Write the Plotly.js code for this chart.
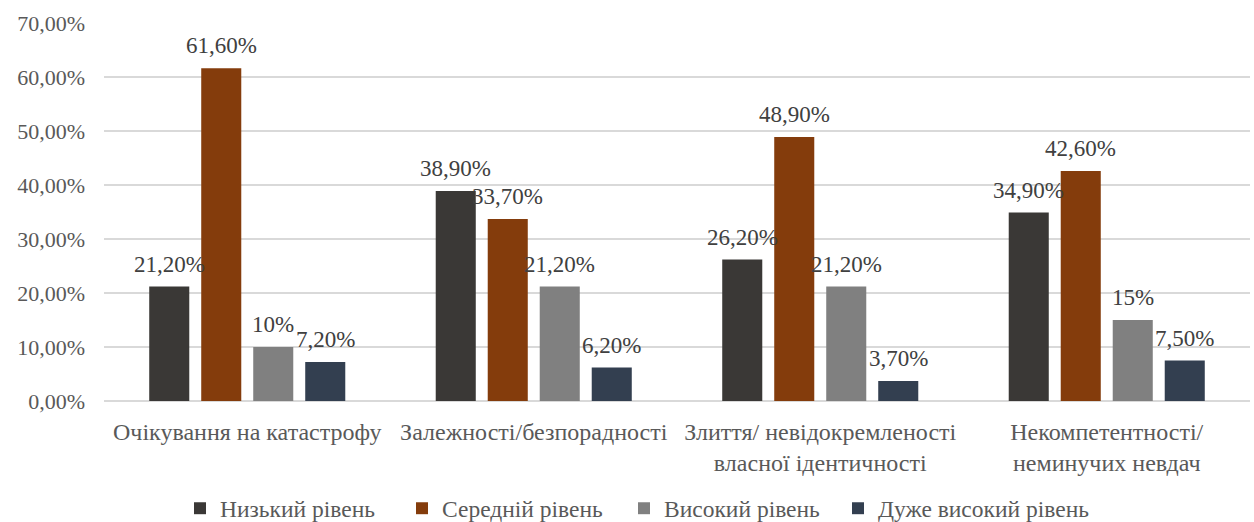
<!DOCTYPE html>
<html>
<head>
<meta charset="utf-8">
<script src="https://cdn.plot.ly/plotly-3.0.1.min.js"></script>
<style>
  html, body { margin: 0; padding: 0; background: #fff; }
  #chart { width: 1254px; height: 522px; }
</style>
</head>
<body>
<div id="chart"></div>
<script>
// Scale categories (x axis)
const categories = [
  'Очікування на катастрофу',
  'Залежності/безпорадності',
  'Злиття/ невідокремленості<br>власної ідентичності',
  'Некомпетентності/<br>неминучих невдач'
];

// Share of respondents per level, in percent
const lowLevel      = [21.2, 38.9, 26.2, 34.9];
const midLevel      = [61.6, 33.7, 48.9, 42.6];
const highLevel     = [10, 21.2, 21.2, 15];
const veryHighLevel = [7.2, 6.2, 3.7, 7.5];

const seriesNames = ['Низький рівень', 'Середній рівень', 'Високий рівень', 'Дуже високий рівень'];
const seriesColors = ['#3a3836', '#843c0c', '#808080', '#333f50'];
const seriesValues = [lowLevel, midLevel, highLevel, veryHighLevel];

const FONT = '"Liberation Serif", "Times New Roman", serif';

const W = 1254, H = 522;
const margin = { l: 104, r: 4, t: 23, b: 121 };
const BARGAP = 0.274, BARGROUPGAP = 0.23;
const LEGEND_ENTRY = 177;   // text slot of one legend entry, px
const LEGEND_LEFT = 180;    // left edge of the first legend row, px
const LEGEND2_LEFT = 838;   // left edge of the last entry, px

function fmt(v) {
  return Number.isInteger(v) ? v + '%' : v.toFixed(2).replace('.', ',') + '%';
}

// The last entry goes into its own legend so its longer text is not clipped
const traces = seriesValues.map((vals, i) => ({
  type: 'bar',
  name: seriesNames[i],
  x: categories,
  y: vals.map(v => v / 100),
  marker: { color: seriesColors[i] },
  legend: i < seriesValues.length - 1 ? 'legend' : 'legend2',
  hoverinfo: 'skip'
}));

// Value labels sit above each bar, shifted to that bar's slot within the group
const plotW = W - margin.l - margin.r;
const slot = plotW / categories.length * (1 - BARGAP) / seriesValues.length;
const annotations = [];
seriesValues.forEach((vals, i) => {
  vals.forEach((v, j) => {
    annotations.push({
      x: categories[j], y: v / 100, xref: 'x', yref: 'y',
      text: fmt(v), showarrow: false,
      xanchor: 'center', yanchor: 'bottom',
      xshift: (i - (seriesValues.length - 1) / 2) * slot,
      yshift: 8,
      font: { family: FONT, size: 23, color: '#404040' }
    });
  });
});

const legendBase = {
  orientation: 'h',
  xanchor: 'left', xref: 'container',
  y: 0.026, yanchor: 'middle', yref: 'container',
  font: { family: FONT, size: 23.5, color: '#595959' },
  traceorder: 'normal',
  itemwidth: 30
};

const layout = {
  width: W,
  height: H,
  margin: Object.assign({ autoexpand: false }, margin),
  paper_bgcolor: '#ffffff',
  plot_bgcolor: '#ffffff',
  separators: ', ',
  font: { family: FONT, size: 22, color: '#595959' },
  barmode: 'group',
  bargap: BARGAP,
  bargroupgap: BARGROUPGAP,
  annotations: annotations,
  showlegend: true,
  legend: Object.assign({}, legendBase, {
    x: LEGEND_LEFT / W,
    entrywidth: LEGEND_ENTRY,
    entrywidthmode: 'pixels'
  }),
  legend2: Object.assign({}, legendBase, {
    x: LEGEND2_LEFT / W
  }),
  xaxis: {
    type: 'category',
    showgrid: false,
    showline: false,
    ticks: '',
    ticklabelstandoff: 14,
    tickfont: { family: FONT, size: 24, color: '#595959' }
  },
  yaxis: {
    range: [0, 0.7],
    dtick: 0.1,
    tickformat: '.2%',
    showgrid: true,
    gridcolor: '#d9d9d9',
    gridwidth: 1.5,
    zeroline: true,
    zerolinecolor: '#d9d9d9',
    zerolinewidth: 1.5,
    showline: false,
    ticks: '',
    ticklabelstandoff: 18,
    tickfont: { family: FONT, size: 22, color: '#595959' }
  }
};

Plotly.newPlot('chart', traces, layout, { displayModeBar: false, staticPlot: true });
</script>
</body>
</html>
